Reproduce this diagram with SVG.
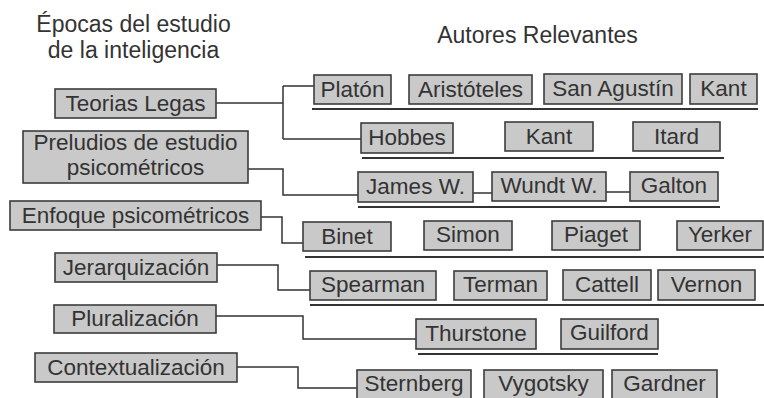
<svg xmlns="http://www.w3.org/2000/svg" width="764" height="398" viewBox="0 0 764 398">
<style>
text{font-family:"Liberation Sans",Arial,sans-serif;font-size:22.5px;fill:#333;text-anchor:middle}
.t{font-size:23px}
.b{fill:#c9c9c9;stroke:#3d3d3d;stroke-width:1.6}
.c{fill:none;stroke:#333;stroke-width:1.5}
.u{stroke:#333;stroke-width:2}
</style>
<rect width="764" height="398" fill="#fff"/>
<g id="titles">
<text class="t" x="133.5" y="32">Épocas del estudio</text>
<text class="t" x="133.5" y="58">de la inteligencia</text>
<text class="t" x="537.5" y="43">Autores Relevantes</text>
</g>
<g id="connectors">
<path class="c" d="M216,103H283M283,86V139M283,86H314M283,139H361"/>
<path class="c" d="M248,169H283V195H358"/>
<path class="c" d="M261,217H282V243H303"/>
<path class="c" d="M217,265H278V290H310"/>
<path class="c" d="M216,316H303V339H416"/>
<path class="c" d="M237,367H298V388H357"/>
<path class="c" d="M473,193H492M606,192H630"/>
</g>
<g id="underlines">
<line class="u" x1="312" y1="109" x2="758" y2="109"/>
<line class="u" x1="362" y1="158" x2="724" y2="158"/>
<line class="u" x1="358" y1="207" x2="720" y2="207"/>
<line class="u" x1="305" y1="257" x2="764" y2="257"/>
<line class="u" x1="310" y1="305" x2="764" y2="305"/>
<line class="u" x1="418" y1="354" x2="658" y2="354"/>
</g>
<g id="teorias"><rect class="b" x="55" y="89" width="161" height="29"/><text x="135.5" y="111">Teorias Legas</text></g>
<g id="preludios"><rect class="b" x="23" y="131" width="225" height="52"/><text x="135.5" y="150">Preludios de estudio</text><text x="135.5" y="175">psicométricos</text></g>
<g id="enfoque"><rect class="b" x="10" y="201" width="251" height="29"/><text x="135.5" y="223">Enfoque psicométricos</text></g>
<g id="jerarquizacion"><rect class="b" x="55" y="253" width="162" height="29"/><text x="136" y="275">Jerarquización</text></g>
<g id="pluralizacion"><rect class="b" x="54" y="305" width="162" height="28"/><text x="135" y="326">Pluralización</text></g>
<g id="contextualizacion"><rect class="b" x="35" y="353" width="202" height="29"/><text x="136" y="375">Contextualización</text></g>
<g id="platon"><rect class="b" x="314" y="75" width="77" height="29"/><text x="352.5" y="97">Platón</text></g>
<g id="aristoteles"><rect class="b" x="409" y="75" width="123" height="29"/><text x="470.5" y="97">Aristóteles</text></g>
<g id="sanagustin"><rect class="b" x="544" y="74" width="138" height="30"/><text x="613" y="96">San Agustín</text></g>
<g id="kant1"><rect class="b" x="690" y="74" width="67" height="30"/><text x="723.5" y="96">Kant</text></g>
<g id="hobbes"><rect class="b" x="361" y="123" width="92" height="30"/><text x="407" y="145">Hobbes</text></g>
<g id="kant2"><rect class="b" x="505" y="122" width="88" height="29"/><text x="549" y="144">Kant</text></g>
<g id="itard"><rect class="b" x="633" y="122" width="87" height="29"/><text x="676.5" y="144">Itard</text></g>
<g id="james"><rect class="b" x="358" y="172" width="115" height="30"/><text x="415.5" y="194">James W.</text></g>
<g id="wundt"><rect class="b" x="492" y="172" width="114" height="29"/><text x="549" y="193">Wundt W.</text></g>
<g id="galton"><rect class="b" x="630" y="172" width="88" height="29"/><text x="674" y="193">Galton</text></g>
<g id="binet"><rect class="b" x="303" y="222" width="88" height="29"/><text x="347" y="244">Binet</text></g>
<g id="simon"><rect class="b" x="424" y="221" width="88" height="29"/><text x="468" y="242">Simon</text></g>
<g id="piaget"><rect class="b" x="552" y="221" width="88" height="29"/><text x="596" y="242">Piaget</text></g>
<g id="yerker"><rect class="b" x="677" y="221" width="86" height="29"/><text x="720" y="242">Yerker</text></g>
<g id="spearman"><rect class="b" x="310" y="271" width="126" height="29"/><text x="373" y="292">Spearman</text></g>
<g id="terman"><rect class="b" x="454" y="271" width="93" height="29"/><text x="500.5" y="292">Terman</text></g>
<g id="cattell"><rect class="b" x="563" y="270" width="88" height="30"/><text x="607" y="292">Cattell</text></g>
<g id="vernon"><rect class="b" x="658" y="270" width="97" height="30"/><text x="706.5" y="292">Vernon</text></g>
<g id="thurstone"><rect class="b" x="416" y="319" width="120" height="30"/><text x="476" y="341">Thurstone</text></g>
<g id="guilford"><rect class="b" x="561" y="319" width="97" height="30"/><text x="609.5" y="340">Guilford</text></g>
<g id="sternberg"><rect class="b" x="357" y="370" width="114" height="30"/><text x="414" y="391">Sternberg</text></g>
<g id="vygotsky"><rect class="b" x="484" y="370" width="119" height="30"/><text x="543.5" y="391">Vygotsky</text></g>
<g id="gardner"><rect class="b" x="612" y="370" width="105" height="30"/><text x="664.5" y="391">Gardner</text></g>
</svg>
